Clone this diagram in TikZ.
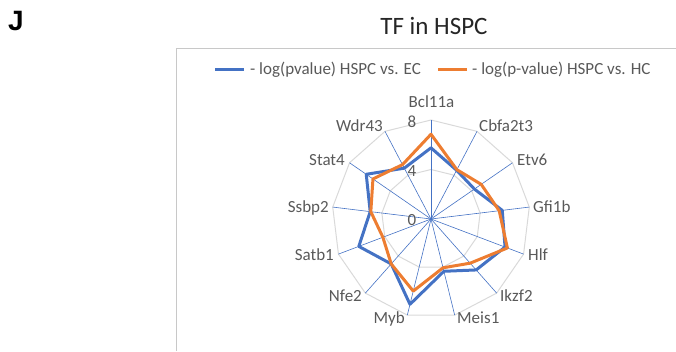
\documentclass[tikz,border=0pt]{standalone}
\usepackage{fontspec}
\setmainfont{Carlito}
\newfontfamily\arialf{Liberation Sans}
\definecolor{sblue}{HTML}{4472C4}
\definecolor{sorange}{HTML}{ED7D31}
\definecolor{gridgray}{HTML}{D9D9D9}
\definecolor{txtgray}{HTML}{595959}
\definecolor{framegray}{HTML}{C8C8C8}
\tikzset{
  lbl/.style={inner sep=0pt, text=txtgray, font=\fontsize{17}{20}\selectfont},
  ring/.style={draw=gridgray, line width=1pt},
  spoke/.style={draw=sblue, line width=0.6pt},
  seriesB/.style={draw=sblue, line width=3pt, line join=round},
  seriesO/.style={draw=sorange, line width=3pt, line join=round},
}
\begin{document}
\begin{tikzpicture}[x=1pt,y=-1pt]
\useasboundingbox (0,0) rectangle (676,351);
% panel letter and title
\node[inner sep=0pt, anchor=base west, font=\arialf\bfseries\fontsize{28}{30}\selectfont] (J) at (8,30) {J};
\node[inner sep=0pt, anchor=base, text=black!85, font=\fontsize{25}{28}\selectfont] (title) at (434,34) {TF in HSPC};
% frame
\coordinate (f1) at (176,351);
\coordinate (f2) at (176,48);
\coordinate (f3) at (676,48);
\draw[framegray, line width=1pt] (f1) -- (f2) -- (f3);
% legend
\coordinate (lb1) at (215,69.3); \coordinate (lb2) at (244,69.3);
\coordinate (lo1) at (438,69.3); \coordinate (lo2) at (467,69.3);
\draw[sblue, line width=3pt] (lb1) -- (lb2);
\draw[sorange, line width=3pt] (lo1) -- (lo2);
\node[lbl, anchor=base west] (legB) at (250,74.3) {- log(pvalue) HSPC vs. EC};
\node[lbl, anchor=base west] (legO) at (472,74.3) {- log(p-value) HSPC vs. HC};
% radar
\begin{scope}[shift={(431,219)}]
  \coordinate (c) at (0,0);
  \foreach \k in {0,...,12} {
    \coordinate (a\k) at ({-90+\k*360/13}:99);
    \coordinate (m\k) at ({-90+\k*360/13}:49.5);
  }
  \draw[ring] (a0) \foreach \k in {1,...,12} {-- (a\k)} -- cycle;
  \draw[ring] (m0) \foreach \k in {1,...,12} {-- (m\k)} -- cycle;
  \foreach \k in {0,...,12} { \draw[spoke] (c) -- (a\k); }
  \foreach \v [count=\k from 0] in {5.75,4.45,4.26,5.8,6.4,5.5,4.35,7.1,4.85,6.24,4.95,6.36,4.64}
    \coordinate (b\k) at ({-90+\k*360/13}:{\v*12.375});
  \foreach \v [count=\k from 0] in {6.85,4.5,4.93,5.55,6.6,4.77,4.06,6.0,4.85,4.16,4.9,5.7,4.96}
    \coordinate (o\k) at ({-90+\k*360/13}:{\v*12.375});
  \draw[seriesB] (b0) \foreach \k in {1,...,12} {-- (b\k)} -- cycle;
  \draw[seriesO] (o0) \foreach \k in {1,...,12} {-- (o\k)} -- cycle;
\end{scope}
% tick labels
\node[lbl, anchor=base east] (t8) at (416.5,127) {8};
\node[lbl, anchor=base east] (t4) at (416.5,176) {4};
\node[lbl, anchor=base east] (t0) at (416.5,225) {0};
% axis labels
\node[lbl, anchor=base] (Bcl11a) at (431.5,107) {Bcl11a};
\node[lbl, anchor=base west] (Cbfa2t3) at (479,131) {Cbfa2t3};
\node[lbl, anchor=base west] (Etv6) at (517,165) {Etv6};
\node[lbl, anchor=base west] (Gfi1b) at (533,212) {Gfi1b};
\node[lbl, anchor=base west] (Hlf) at (528,260) {Hlf};
\node[lbl, anchor=base west] (Ikzf2) at (500,301) {Ikzf2};
\node[lbl, anchor=base west] (Meis1) at (457,323.5) {Meis1};
\node[lbl, anchor=base east] (Myb) at (405,323.5) {Myb};
\node[lbl, anchor=base east] (Nfe2) at (362,301) {Nfe2};
\node[lbl, anchor=base east] (Satb1) at (334,260) {Satb1};
\node[lbl, anchor=base east] (Ssbp2) at (329,212) {Ssbp2};
\node[lbl, anchor=base east] (Stat4) at (345,165) {Stat4};
\node[lbl, anchor=base east] (Wdr43) at (383,131) {Wdr43};
\end{tikzpicture}
\end{document}
